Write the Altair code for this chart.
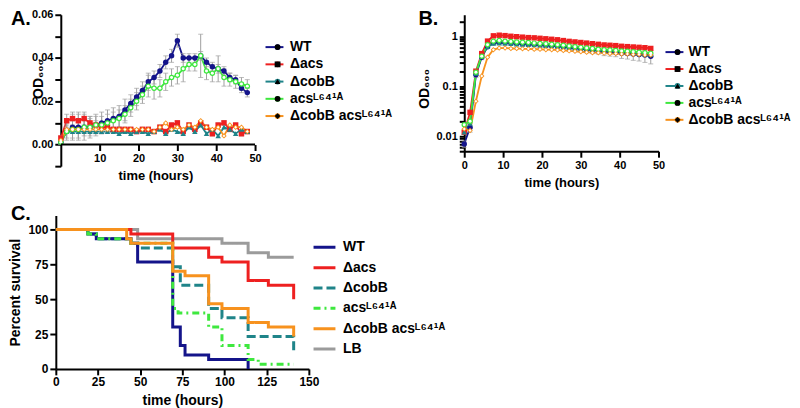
import altair as alt
import pandas as pd

FONT = "Liberation Sans"

NAVY = "#14148a"
RED = "#ee2020"
TEAL = "#1f8489"
GREEN = "#3ee83e"
ORANGE = "#f7921e"
GRAY = "#9b9b9b"
ERR = "#a0a0a0"

STRAINS = ["WT", "Δacs", "ΔcobB", "acsᴸ⁶⁴¹ᴬ", "ΔcobB acsᴸ⁶⁴¹ᴬ"]
OPEN = ["acsᴸ⁶⁴¹ᴬ", "ΔcobB acsᴸ⁶⁴¹ᴬ"]
STRAINS_C = ["WT", "Δacs", "ΔcobB", "acsᴸ⁶⁴¹ᴬ", "ΔcobB acsᴸ⁶⁴¹ᴬ", "LB"]
COLORS = [NAVY, RED, TEAL, GREEN, ORANGE]
COLORS_C = [NAVY, RED, TEAL, GREEN, ORANGE, GRAY]
SHAPES = ["circle", "square", "triangle-up", "circle", "diamond"]
DASHES_C = [[1, 0], [1, 0], [9, 4], [7, 4, 2, 4], [1, 0], [1, 0]]
WIDTHS_C = [3, 3, 3, 3, 3, 2.2]

# ---------------- Panel A (linear OD600) ----------------
hours = [0, 1.5, 3, 4.5, 6, 7.5, 9, 10.5, 12, 13.5, 15, 16.5, 18, 19.5, 21, 22.5,
         24, 25.5, 27, 28.5, 30, 31.5, 33, 34.5, 36, 37.5, 39, 40.5, 42, 43.5, 45, 46.5, 48]

a_wt = [0.001, 0.006, 0.008, 0.008, 0.008, 0.008, 0.009, 0.010, 0.011, 0.012,
        0.013, 0.016, 0.019, 0.022, 0.025, 0.029, 0.031, 0.034, 0.038, 0.041,
        0.048, 0.040, 0.040, 0.040, 0.041, 0.038, 0.036, 0.035, 0.034, 0.031,
        0.030, 0.026, 0.024]
a_acs = [0.003, 0.011, 0.012, 0.011, 0.012, 0.010, 0.009, 0.008, 0.008, 0.007,
         0.007, 0.007, 0.007, 0.006, 0.007, 0.007, 0.006, 0.008, 0.006, 0.009,
         0.010, 0.006, 0.009, 0.007, 0.010, 0.008, 0.005, 0.009, 0.010, 0.007,
         0.009, 0.005, 0.006]
a_cobb = [0.002, 0.006, 0.006, 0.006, 0.006, 0.006, 0.006, 0.006, 0.006, 0.006,
          0.005, 0.006, 0.005, 0.006, 0.006, 0.005, 0.006, 0.007, 0.005, 0.007,
          0.006, 0.005, 0.008, 0.006, 0.009, 0.005, 0.007, 0.004, 0.008, 0.007,
          0.005, 0.007, 0.006]
a_l641a = [0.001, 0.006, 0.007, 0.007, 0.008, 0.008, 0.009, 0.009, 0.010, 0.011,
           0.012, 0.014, 0.017, 0.020, 0.023, 0.027, 0.026, 0.026, 0.029, 0.031,
           0.032, 0.035, 0.037, 0.037, 0.041, 0.034, 0.033, 0.035, 0.031, 0.030,
           0.029, 0.028, 0.027]
a_dbl = [0.002, 0.007, 0.007, 0.007, 0.007, 0.007, 0.007, 0.007, 0.007, 0.007,
         0.007, 0.007, 0.007, 0.007, 0.007, 0.007, 0.006, 0.008, 0.010, 0.007,
         0.008, 0.007, 0.009, 0.008, 0.011, 0.008, 0.007, 0.008, 0.004, 0.009,
         0.008, 0.008, 0.006]

a_wt_sd = [0.001, 0.004, 0.006, 0.006, 0.006, 0.005, 0.005, 0.005, 0.005, 0.005,
           0.005, 0.005, 0.004, 0.004, 0.004, 0.004, 0.003, 0.003, 0.003, 0.003,
           0.003, 0.002, 0.002, 0.002, 0.002, 0.002, 0.002, 0.002, 0.002, 0.002,
           0.002, 0.002, 0.002]
a_acs_sd = [0.001, 0.003, 0.003, 0.004, 0.003, 0.003, 0.002, 0.002, 0.002, 0.001,
            0.001, 0.001, 0.001, 0.001, 0.001, 0.001, 0.001, 0.001, 0.001, 0.001,
            0.001, 0.001, 0.001, 0.001, 0.001, 0.001, 0.001, 0.001, 0.001, 0.001,
            0.001, 0.001, 0.001]
a_l641a_sd = [0.001, 0.003, 0.004, 0.004, 0.004, 0.004, 0.004, 0.004, 0.004, 0.004,
              0.004, 0.004, 0.004, 0.004, 0.004, 0.005, 0.005, 0.004, 0.004, 0.004,
              0.004, 0.006, 0.003, 0.003, 0.010, 0.004, 0.004, 0.006, 0.004, 0.003,
              0.003, 0.003, 0.003]

# ---------------- Panel B (log OD600) ----------------
b_wt = [0.007, 0.015, 0.17, 0.38, 0.62, 0.74, 0.76, 0.75, 0.74, 0.72,
        0.71, 0.70, 0.69, 0.68, 0.66, 0.65, 0.64, 0.62, 0.60, 0.58,
        0.57, 0.55, 0.53, 0.52, 0.50, 0.49, 0.48, 0.46, 0.45, 0.44,
        0.43, 0.42, 0.40]
b_acs = [0.012, 0.030, 0.20, 0.45, 0.80, 1.02, 1.05, 1.03, 1.00, 0.98,
         0.96, 0.94, 0.93, 0.91, 0.89, 0.87, 0.85, 0.82, 0.79, 0.77,
         0.75, 0.73, 0.71, 0.69, 0.67, 0.66, 0.65, 0.63, 0.62, 0.61,
         0.60, 0.59, 0.57]
b_cobb = [0.012, 0.018, 0.18, 0.40, 0.62, 0.72, 0.73, 0.72, 0.71, 0.70,
          0.69, 0.68, 0.67, 0.66, 0.65, 0.64, 0.63, 0.61, 0.60, 0.58,
          0.57, 0.55, 0.54, 0.53, 0.51, 0.50, 0.49, 0.48, 0.47, 0.46,
          0.45, 0.44, 0.43]
b_l641a = [0.017, 0.020, 0.19, 0.40, 0.68, 0.80, 0.82, 0.80, 0.79, 0.77,
           0.76, 0.75, 0.73, 0.72, 0.71, 0.69, 0.68, 0.66, 0.64, 0.62,
           0.60, 0.58, 0.57, 0.55, 0.54, 0.53, 0.52, 0.51, 0.50, 0.49,
           0.48, 0.47, 0.46]
b_dbl = [0.014, 0.013, 0.05, 0.16, 0.38, 0.54, 0.58, 0.58, 0.57, 0.57,
         0.56, 0.56, 0.55, 0.55, 0.54, 0.54, 0.53, 0.52, 0.51, 0.50,
         0.49, 0.48, 0.47, 0.47, 0.46, 0.45, 0.45, 0.44, 0.44, 0.43,
         0.43, 0.42, 0.42]
b_wt_sd = [0.001, 0.003, 0.02, 0.04, 0.05, 0.05, 0.05, 0.05, 0.05, 0.05,
           0.05, 0.05, 0.05, 0.05, 0.06, 0.06, 0.06, 0.06, 0.07, 0.07,
           0.07, 0.08, 0.08, 0.08, 0.09, 0.09, 0.09, 0.10, 0.10, 0.11,
           0.11, 0.12, 0.12]

# ---------------- Panel C (survival, step curves) ----------------
c_wt_t = [0, 19, 24, 44.5, 48.5, 69.3, 73.8, 76.6, 90.6, 114]
c_wt_v = [100, 96.7, 93.3, 90, 76.7, 30, 16.7, 10, 6.7, 0]
c_acs_t = [0, 44.5, 69.3, 90.6, 98.5, 114, 126, 141]
c_acs_v = [100, 96.7, 86.7, 80, 76.7, 63.3, 60, 50]
c_cobb_t = [0, 19, 24, 44.5, 48.5, 69.3, 73.8, 90.6, 98.5, 114, 141]
c_cobb_v = [100, 96.7, 93.3, 90, 86.7, 73.3, 60, 43.3, 36.7, 23.3, 13.3]
c_l641a_t = [0, 19, 24, 44.5, 69.3, 72.5, 90.6, 98.5, 114, 120, 141]
c_l641a_v = [100, 96.7, 93.3, 90, 43.3, 40, 30, 16.7, 6.7, 3.3, 3.3]
c_dbl_t = [0, 42, 44.5, 69.3, 76.6, 90.6, 98.5, 114, 126, 141]
c_dbl_v = [100, 93.3, 90, 70, 66.7, 46.7, 43.3, 33.3, 30, 23.3]
c_lb_t = [0, 48.5, 98.5, 114, 126, 141]
c_lb_v = [100, 93.3, 90, 83.3, 80, 80]


# ---------------- tables ----------------
def long_table(series, sds):
    rows = []
    for name, vals in zip(STRAINS, series):
        for t, v in zip(hours, vals):
            rows.append({"t": t, "v": v, "s": name, "s2": name})
    err = []
    for name, vals in zip(STRAINS, series):
        if name in sds:
            for t, v, e in zip(hours, vals, sds[name]):
                err.append({"t": t, "lo": v - e, "hi": v + e})
    return pd.DataFrame(rows), pd.DataFrame(err)


dfA, dfAerr = long_table([a_wt, a_acs, a_cobb, a_l641a, a_dbl],
                         {"WT": a_wt_sd, "Δacs": a_acs_sd, "acsᴸ⁶⁴¹ᴬ": a_l641a_sd})
dfB, dfBerr = long_table([b_wt, b_acs, b_cobb, b_l641a, b_dbl], {"WT": b_wt_sd})

c_series = [("LB", c_lb_t, c_lb_v), ("ΔcobB", c_cobb_t, c_cobb_v), ("Δacs", c_acs_t, c_acs_v),
            ("WT", c_wt_t, c_wt_v), ("acsᴸ⁶⁴¹ᴬ", c_l641a_t, c_l641a_v),
            ("ΔcobB acsᴸ⁶⁴¹ᴬ", c_dbl_t, c_dbl_v)]
dfC = pd.DataFrame([{"t": t, "v": v, "s": n} for n, ts, vs in c_series for t, v in zip(ts, vs)])


def ax(**kw):
    base = dict(grid=False, domainColor="black", domainWidth=2, tickColor="black", tickWidth=2,
                tickSize=6, labelFont=FONT, labelFontWeight="bold", labelFontSize=11,
                labelColor="black", labelPadding=2, labelFlush=False, labelOverlap=False,
                titleFont=FONT, titleFontWeight="bold", titleFontSize=13, titleColor="black")
    base.update(kw)
    return alt.Axis(**base)


def line_legend(x, y, size, sw, loff, rpad):
    return alt.Legend(title=None, orient="none", legendX=x, legendY=y, padding=0,
                      symbolType="M-1.5,0L1.5,0", symbolSize=size, symbolStrokeWidth=sw,
                      labelFont=FONT, labelFontWeight="bold", labelFontSize=14, labelColor="black",
                      labelOffset=loff, rowPadding=rpad, labelLimit=300)


def marker_legend(x, y, rpad):
    return alt.Legend(title=None, orient="none", legendX=x, legendY=y, padding=0,
                      symbolSize=34, symbolStrokeWidth=0, symbolOpacity=1,
                      labelFont=FONT, labelFontWeight="bold", labelFontSize=14,
                      labelOpacity=0, rowPadding=rpad, labelLimit=300)


def panel_label(txt, x, y):
    return alt.Chart(pd.DataFrame({"lab": [txt]})).mark_text(
        align="left", baseline="top", font=FONT, fontSize=20, fontWeight="bold", color="black"
    ).encode(x=alt.value(x), y=alt.value(y), text="lab:N")


def growth_panel(df, dferr, xs, ys, xaxis, yaxis, xtitle, ytitle, lleg, mleg, label, extra=None):
    def X(f):
        return alt.X(f, scale=xs, axis=xaxis, title=xtitle)

    def Y(f):
        return alt.Y(f, scale=ys, axis=yaxis, title=ytitle)

    lines = alt.Chart(df).mark_line(strokeWidth=1.8).encode(
        x=X("t:Q"), y=Y("v:Q"),
        stroke=alt.Stroke("s:N", scale=alt.Scale(domain=STRAINS, range=COLORS), legend=lleg))
    err = alt.Chart(dferr).mark_rule(color=ERR, strokeWidth=1).encode(
        x=X("t:Q"), y=Y("lo:Q"), y2="hi:Q")
    caps = alt.Chart(dferr).transform_fold(["lo", "hi"], as_=["k", "cap"]).mark_tick(
        color=ERR, orient="horizontal", size=5, thickness=1).encode(x=X("t:Q"), y=Y("cap:Q"))
    pts = alt.Chart(df).mark_point(filled=True, size=30, opacity=1).encode(
        x=X("t:Q"), y=Y("v:Q"),
        color=alt.Color("s2:N", sort=STRAINS, scale=alt.Scale(range=COLORS), legend=mleg),
        shape=alt.Shape("s2:N", sort=STRAINS, scale=alt.Scale(range=SHAPES), legend=mleg))
    holes = alt.Chart(df).transform_filter(
        alt.FieldOneOfPredicate(field="s2", oneOf=OPEN)).mark_point(
        filled=True, size=9, opacity=1, color="white").encode(
        x=X("t:Q"), y=Y("v:Q"),
        shape=alt.Shape("s2:N", sort=STRAINS, scale=alt.Scale(range=SHAPES), legend=None))
    layers = [lines, err, caps, pts, holes]
    if extra is not None:
        layers.append(extra(xaxis, yaxis, xtitle, ytitle))
    layers.append(label)
    return alt.layer(*layers)


# ---- Panel A ----
xsA = alt.Scale(domain=[-1.3, 50], nice=False, zero=False)
ysA = alt.Scale(domain=[-0.01, 0.06], nice=False, zero=False)
xaxA = ax(values=[10, 20, 30, 40, 50], domain=False, offset=-21.7, titlePadding=6)
yaxA = ax(values=[-0.01, 0, 0.01, 0.02, 0.03, 0.04, 0.05, 0.06],
          labelExpr="(abs(datum.value) < 1e-6 || abs(datum.value - 0.02) < 1e-6 || abs(datum.value - 0.04) < 1e-6 || abs(datum.value - 0.06) < 1e-6) ? format(datum.value, '.2f') : ''",
          offset=-5, titleFontSize=14, titleX=-22, titleY=64, titleAngle=270,
          titleAlign="center", titleBaseline="middle")


def axis_rule_A(xaxis, yaxis, xtitle, ytitle):
    return alt.Chart(pd.DataFrame({"z": [0]})).mark_rule(color="black", strokeWidth=2).encode(
        x=alt.XDatum(0, type="quantitative", scale=xsA, axis=xaxis, title=xtitle),
        x2=alt.X2Datum(50),
        y=alt.YDatum(0, type="quantitative", scale=ysA, axis=yaxis, title=ytitle))


panelA = growth_panel(dfA, dfAerr, xsA, ysA, xaxA, yaxA, "time (hours)", "OD₆₀₀",
                      line_legend(212.5, 25.5, 144, 2, 8.5, 3.3),
                      marker_legend(215.6, 25.5, 3.3),
                      panel_label("A.", -45, -5.5), extra=axis_rule_A).properties(width=200, height=152)

# ---- Panel B ----
xsB = alt.Scale(domain=[0, 50], nice=False, zero=False)
ysB = alt.Scale(type="log", domain=[0.005, 2.7], nice=False)
logticks = [0.005, 0.006, 0.007, 0.008, 0.009, 0.01, 0.02, 0.03, 0.04, 0.05, 0.06, 0.07, 0.08,
            0.09, 0.1, 0.2, 0.3, 0.4, 0.5, 0.6, 0.7, 0.8, 0.9, 1, 2]
xaxB = ax(values=[0, 10, 20, 30, 40, 50], titlePadding=6)
yaxB = ax(values=logticks, tickSize=5,
          labelExpr="(abs(datum.value - 0.01) < 1e-9) ? '0.01' : (abs(datum.value - 0.1) < 1e-9) ? '0.1' : (abs(datum.value - 1) < 1e-9) ? '1' : ''",
          titleFontSize=14, titleX=-40, titleY=74, titleAngle=270,
          titleAlign="center", titleBaseline="middle")
panelB = growth_panel(dfB, dfBerr, xsB, ysB, xaxB, yaxB, "time (hours)", "OD₆₀₀",
                      line_legend(204, 30.5, 144, 2, 7, 3),
                      marker_legend(207.1, 30.5, 3),
                      panel_label("B.", -46, -5.5)).properties(width=195, height=137)

# ---- Panel C ----
legC = line_legend(260.7, 23, 215, 3, 9.6, 4.4)
lineC = alt.Chart(dfC).mark_line(interpolate="step-after").encode(
    x=alt.X("t:Q", scale=alt.Scale(domain=[0, 150], nice=False),
            axis=ax(values=[0, 25, 50, 75, 100, 125, 150], labelFontSize=12,
                    title="time (hours)", titleFontSize=14, titlePadding=6)),
    y=alt.Y("v:Q", scale=alt.Scale(domain=[0, 110], nice=False),
            axis=ax(values=[0, 25, 50, 75, 100], labelFontSize=12, title="Percent survival",
                    titleFontSize=14, titlePadding=5)),
    color=alt.Color("s:N", scale=alt.Scale(domain=STRAINS_C, range=COLORS_C), legend=legC),
    strokeDash=alt.StrokeDash("s:N", scale=alt.Scale(domain=STRAINS_C, range=DASHES_C), legend=legC),
    strokeWidth=alt.StrokeWidth("s:N", scale=alt.Scale(domain=STRAINS_C, range=WIDTHS_C), legend=None),
    order=alt.Order("t:Q"))
panelC = alt.layer(lineC, panel_label("C.", -45, -11)).properties(width=254, height=154)

chart = alt.concat(panelA, panelB, panelC, columns=2, spacing={"row": 49.5, "column": 156},
                   bounds="flush", align="none").resolve_scale(
    x="independent", y="independent", color="independent", fill="independent",
    stroke="independent", shape="independent", strokeDash="independent",
    strokeWidth="independent").properties(padding=0).configure_view(
    stroke=None).configure_axis(labelOverlap=False, labelFlush=False, labelBound=False)

chart.save("out.html", embed_options={"renderer": "svg", "actions": False})
